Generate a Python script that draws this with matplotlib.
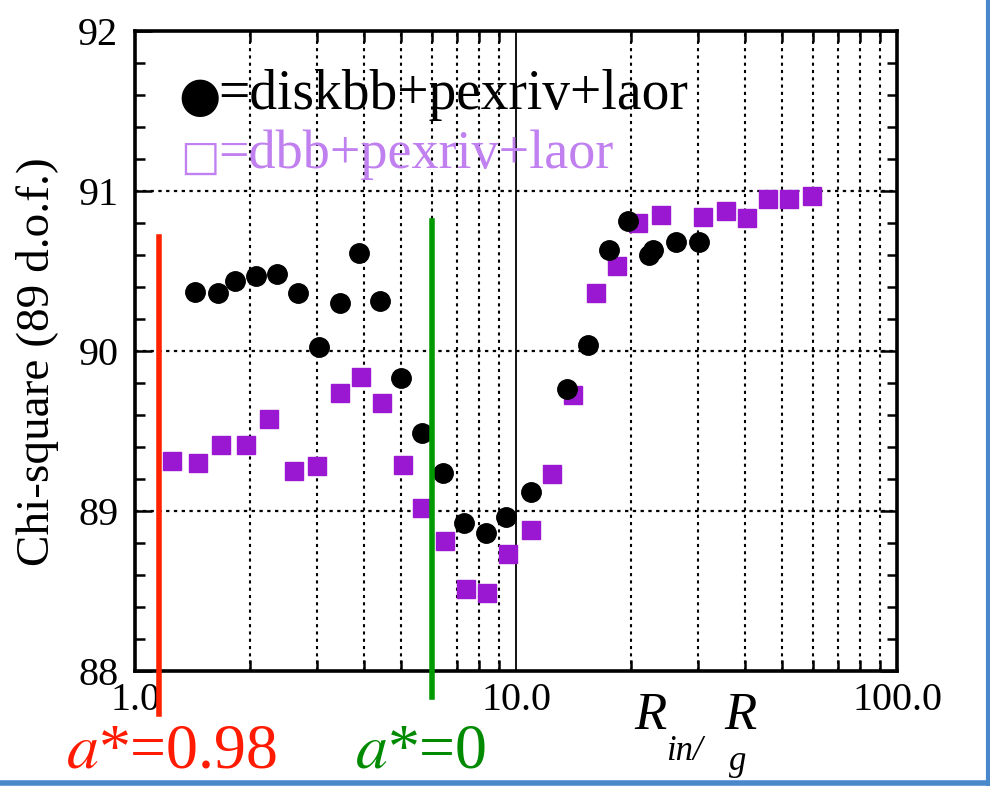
import matplotlib
matplotlib.use("Agg")
from matplotlib import pyplot as plt
from matplotlib.lines import Line2D
from matplotlib.ticker import FixedLocator, NullFormatter

plt.rcParams['font.family'] = ['Liberation Serif', 'DejaVu Serif']
plt.rcParams['mathtext.fontset'] = 'stix'

# diskbb+pexriv+laor fits
rin_disk = [1.44, 1.65, 1.83, 2.08, 2.36, 2.68, 3.04, 3.45, 3.87, 4.40, 4.99, 5.66, 6.43,
            7.30, 8.34, 9.41, 10.95, 13.6, 15.45, 17.5, 19.7, 22.3, 22.9, 26.3, 30.2]
chi_disk = [90.37, 90.36, 90.44, 90.47, 90.48, 90.36, 90.025, 90.30, 90.61, 90.31, 89.83, 89.49, 89.24,
            88.925, 88.86, 88.96, 89.12, 89.76, 90.04, 90.63, 90.81, 90.60, 90.63, 90.68, 90.68]

# dbb+pexriv+laor fits
rin_dbb = [1.25, 1.46, 1.68, 1.96, 2.25, 2.62, 3.00, 3.45, 3.92, 4.45, 5.05, 5.66, 6.51,
           7.39, 8.39, 9.53, 10.95, 12.4, 14.1, 16.2, 18.4, 20.9, 24.0, 31.0, 35.6, 40.4,
           45.9, 52.1, 59.8]
chi_dbb = [89.31, 89.30, 89.41, 89.41, 89.575, 89.25, 89.28, 89.74, 89.84, 89.675, 89.29, 89.02, 88.81,
           88.51, 88.49, 88.73, 88.88, 89.23, 89.725, 90.36, 90.53, 90.80, 90.85, 90.84, 90.875, 90.83,
           90.95, 90.95, 90.97]

# inner radius of the last stable orbit for two spins
spin_lines = [(1.156, 90.71, 87.73, '#ff2200'), (6.02, 90.81, 87.84, '#009a00')]

fig = plt.figure(figsize=(9.9, 7.86), dpi=100)
ax = fig.add_axes([0.1364, 0.1463, 0.7697, 0.8142])

ax.set_xscale('log')
ax.set_xlim(1, 100)
ax.set_ylim(88, 92)

minor_x = [m * d for d in (1, 10) for m in range(2, 10)]
for x in minor_x:
    ax.axvline(x, color='k', ls=(0, (1.5, 2)), lw=1.5, zorder=1)
ax.axvline(10, color='k', lw=1.3, zorder=1)
for y in (89, 90, 91):
    ax.axhline(y, color='k', ls=(0, (1.5, 2)), lw=1.6, zorder=1)

ax.plot(rin_disk, chi_disk, 'o', color='k', ms=14, zorder=4)
ax.plot(rin_dbb, chi_dbb, 's', color='#9a18d2', mec='#9a18d2', ms=13.5, zorder=3)

for x, y0, y1, c in spin_lines:
    ax.plot([x, x], [y0, y1], color=c, lw=4, clip_on=False, zorder=5)

ax.xaxis.set_major_locator(FixedLocator([1, 10, 100]))
ax.xaxis.set_minor_locator(FixedLocator(minor_x))
ax.xaxis.set_minor_formatter(NullFormatter())
ax.set_xticklabels(['1.0', '10.0', '100.0'])
ax.set_yticks([88, 89, 90, 91, 92])
ax.set_yticks([88 + 0.2 * i for i in range(21)], minor=True)

ax.tick_params(axis='both', which='both', direction='in', top=True, right=True,
               labelsize=29, width=1.8)
ax.tick_params(axis='y', which='major', length=12, pad=12)
ax.tick_params(axis='y', which='minor', length=7)
ax.tick_params(axis='x', which='major', length=0, pad=8)
ax.tick_params(axis='x', which='minor', length=8)
for s in ax.spines.values():
    s.set_linewidth(2.6)

fig.text(38 / 990, 1 - 362 / 786, 'Chi-square (89 d.o.f.)', fontsize=34,
         rotation=90, ha='center', va='center')

# model key
fig.text(200 / 990, 1 - 97 / 786, '\u25cf', family='DejaVu Sans', fontsize=35,
         color='k', ha='center', va='center')
fig.text(218 / 990, 1 - 95 / 786, '=diskbb+pexriv+laor', fontsize=40,
         color='k', ha='left', va='center')
fig.text(200 / 990, 1 - 158 / 786, '\u25a1', family='DejaVu Sans', fontsize=30,
         color='#c080f0', ha='center', va='center')
fig.text(218 / 990, 1 - 155 / 786, '=dbb+pexriv+laor', fontsize=39,
         color='#c080f0', ha='left', va='center')

# x axis label R_in / R_g
fig.text(650 / 990, 1 - 716 / 786, 'R', fontsize=38, style='italic', ha='center', va='center')
fig.text(684 / 990, 1 - 752 / 786, 'in/', fontsize=25, style='italic', ha='center', va='center')
fig.text(740 / 990, 1 - 716 / 786, 'R', fontsize=38, style='italic', ha='center', va='center')
fig.text(738 / 990, 1 - 762 / 786, 'g', fontsize=25, style='italic', ha='center', va='center')

fig.text(172 / 990, 1 - 752 / 786, r'$a$*=0.98', fontsize=46, color='#ff1a00',
         ha='center', va='center')
fig.text(421 / 990, 1 - 752 / 786, r'$a$*=0', fontsize=46, color='#008a00',
         ha='center', va='center')

# frame on right and bottom edges
fig.add_artist(Line2D([0.9975, 0.9975], [0, 1], transform=fig.transFigure, color='#4a88cc', lw=3))
fig.add_artist(Line2D([0, 1], [0.0035, 0.0035], transform=fig.transFigure, color='#4a88cc', lw=4))

fig.savefig('out.png', dpi=100)
